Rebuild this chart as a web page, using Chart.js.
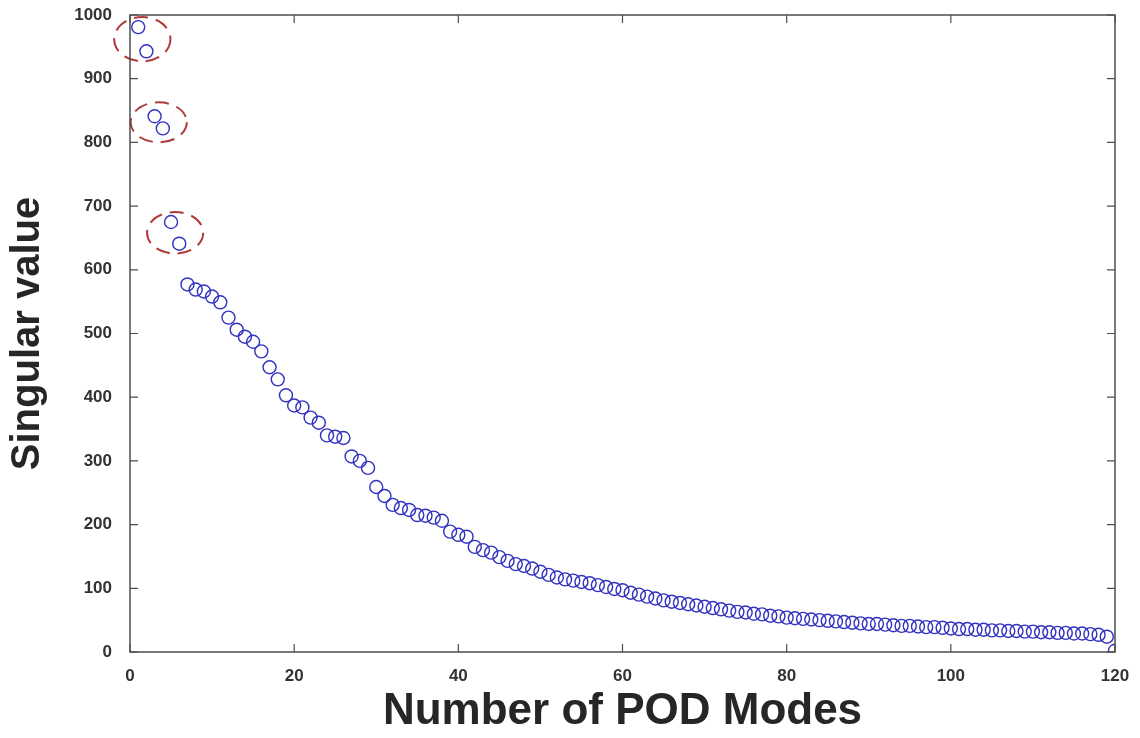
<!DOCTYPE html>
<html>
<head>
<meta charset="utf-8">
<script src="https://cdn.jsdelivr.net/npm/chart.js@4"></script>
<style>
  html, body { margin: 0; padding: 0; background: #fff; }
  #wrap { width: 1140px; height: 738px; }
</style>
</head>
<body>
<div id="wrap"><canvas id="podChart" width="1140" height="738"></canvas></div>
<script>
// singular values, mode 1..120
const singularValues = [
  981, 943, 841, 822, 675, 641, 577, 569, 566, 558,
  549, 525, 506, 495, 487, 472, 447, 428, 403, 387,
  384, 368, 360, 340, 338, 336, 307, 300, 289, 259,
  245, 231, 226, 223, 215, 214, 211, 206, 189, 184,
  181, 165, 160, 156, 149, 143, 138, 135, 131, 126,
  121, 117, 114, 112, 110, 108, 105, 102, 99, 97,
  93, 90, 87, 84, 81, 79, 77, 75, 73, 71,
  69, 67, 65, 63, 62, 60, 59, 57, 56, 54,
  53, 52, 51, 50, 49, 48, 47, 46, 45, 44,
  44, 43, 42, 41, 41, 40, 39, 39, 38, 37,
  36, 36, 35, 35, 34, 34, 33, 33, 32, 32,
  31, 31, 30, 30, 29, 29, 28, 27, 24, 2
];
const modeNumbers = singularValues.map((v, i) => i + 1);
// pairs of modes circled with dashed red ellipses
const circledPairs = [[1, 2], [3, 4], [5, 6]];

const xTicks = [0, 20, 40, 60, 80, 100, 120];
const yTicks = [0, 100, 200, 300, 400, 500, 600, 700, 800, 900, 1000];

const points = modeNumbers.map((m, i) => ({ x: m, y: singularValues[i] }));

// box around the plot + inward tick marks (matlab style)
const boxPlugin = {
  id: "box",
  afterDraw(chart) {
    const { ctx, chartArea: a, scales } = chart;
    ctx.save();
    ctx.strokeStyle = "#4d4d4d";
    ctx.lineWidth = 1.5;
    ctx.strokeRect(a.left, a.top, a.right - a.left, a.bottom - a.top);
    ctx.lineWidth = 1.2;
    const len = 8;
    xTicks.forEach((t) => {
      const px = scales.x.getPixelForValue(t);
      ctx.beginPath();
      ctx.moveTo(px, a.bottom); ctx.lineTo(px, a.bottom - len);
      ctx.moveTo(px, a.top); ctx.lineTo(px, a.top + len);
      ctx.stroke();
    });
    yTicks.forEach((t) => {
      const py = scales.y.getPixelForValue(t);
      ctx.beginPath();
      ctx.moveTo(a.left, py); ctx.lineTo(a.left + len, py);
      ctx.moveTo(a.right, py); ctx.lineTo(a.right - len, py);
      ctx.stroke();
    });
    ctx.restore();
  },
};

// dashed ellipses around the first three pairs
const ellipsePlugin = {
  id: "ellipses",
  afterDatasetsDraw(chart) {
    const { ctx, scales } = chart;
    ctx.save();
    ctx.strokeStyle = "#b03a3a";
    ctx.lineWidth = 2;
    ctx.setLineDash([14, 8]);
    circledPairs.forEach(([m1, m2]) => {
      const x1 = scales.x.getPixelForValue(m1), y1 = scales.y.getPixelForValue(singularValues[m1 - 1]);
      const x2 = scales.x.getPixelForValue(m2), y2 = scales.y.getPixelForValue(singularValues[m2 - 1]);
      const cx = (x1 + x2) / 2, cy = (y1 + y2) / 2;
      const rx = Math.abs(x2 - x1) / 2 + 24;
      const ry = Math.max(Math.abs(y2 - y1) / 2 + 10, 20);
      ctx.beginPath();
      ctx.ellipse(cx, cy, rx, ry, 0, 0, Math.PI * 2);
      ctx.stroke();
    });
    ctx.restore();
  },
};

const tickFont = { family: "Liberation Sans, Arial", size: 17, weight: "bold" };

new Chart(document.getElementById("podChart"), {
  type: "scatter",
  data: {
    datasets: [
      {
        label: "Singular value",
        data: points,
        pointRadius: 6.5,
        pointHoverRadius: 6.5,
        pointBorderWidth: 1.4,
        borderColor: "#3232c0",
        backgroundColor: "rgba(0,0,0,0)",
        showLine: false,
      },
    ],
  },
  options: {
    responsive: false,
    animation: false,
    layout: { padding: { top: 15, right: 25, left: 0, bottom: 0 } },
    plugins: { legend: { display: false }, tooltip: { enabled: false } },
    scales: {
      x: {
        type: "linear",
        min: 0,
        max: 120,
        afterBuildTicks: (s) => { s.ticks = xTicks.map((v) => ({ value: v })); },
        afterFit: (s) => { s.height = 86; s.paddingLeft = 0; s.paddingRight = 0; },
        grid: { display: false },
        border: { display: false },
        ticks: { color: "#333", font: tickFont, padding: 6, maxRotation: 0, callback: (v) => String(v) },
        title: {
          display: true,
          text: "Number of POD Modes",
          color: "#262626",
          font: { family: "Liberation Sans, Arial", size: 44, weight: "bold" },
          padding: { top: 0, bottom: 0 },
        },
      },
      y: {
        type: "linear",
        min: 0,
        max: 1000,
        afterBuildTicks: (s) => { s.ticks = yTicks.map((v) => ({ value: v })); },
        afterFit: (s) => { s.width = 130; s.paddingTop = 0; s.paddingBottom = 0; },
        grid: { display: false },
        border: { display: false },
        ticks: { color: "#333", font: tickFont, padding: 10, callback: (v) => String(v) },
        title: {
          display: true,
          text: "Singular value",
          color: "#262626",
          font: { family: "Liberation Sans, Arial", size: 40, weight: "bold" },
          padding: { top: 4, bottom: 0 },
        },
      },
    },
  },
  plugins: [boxPlugin, ellipsePlugin],
});
</script>
</body>
</html>
